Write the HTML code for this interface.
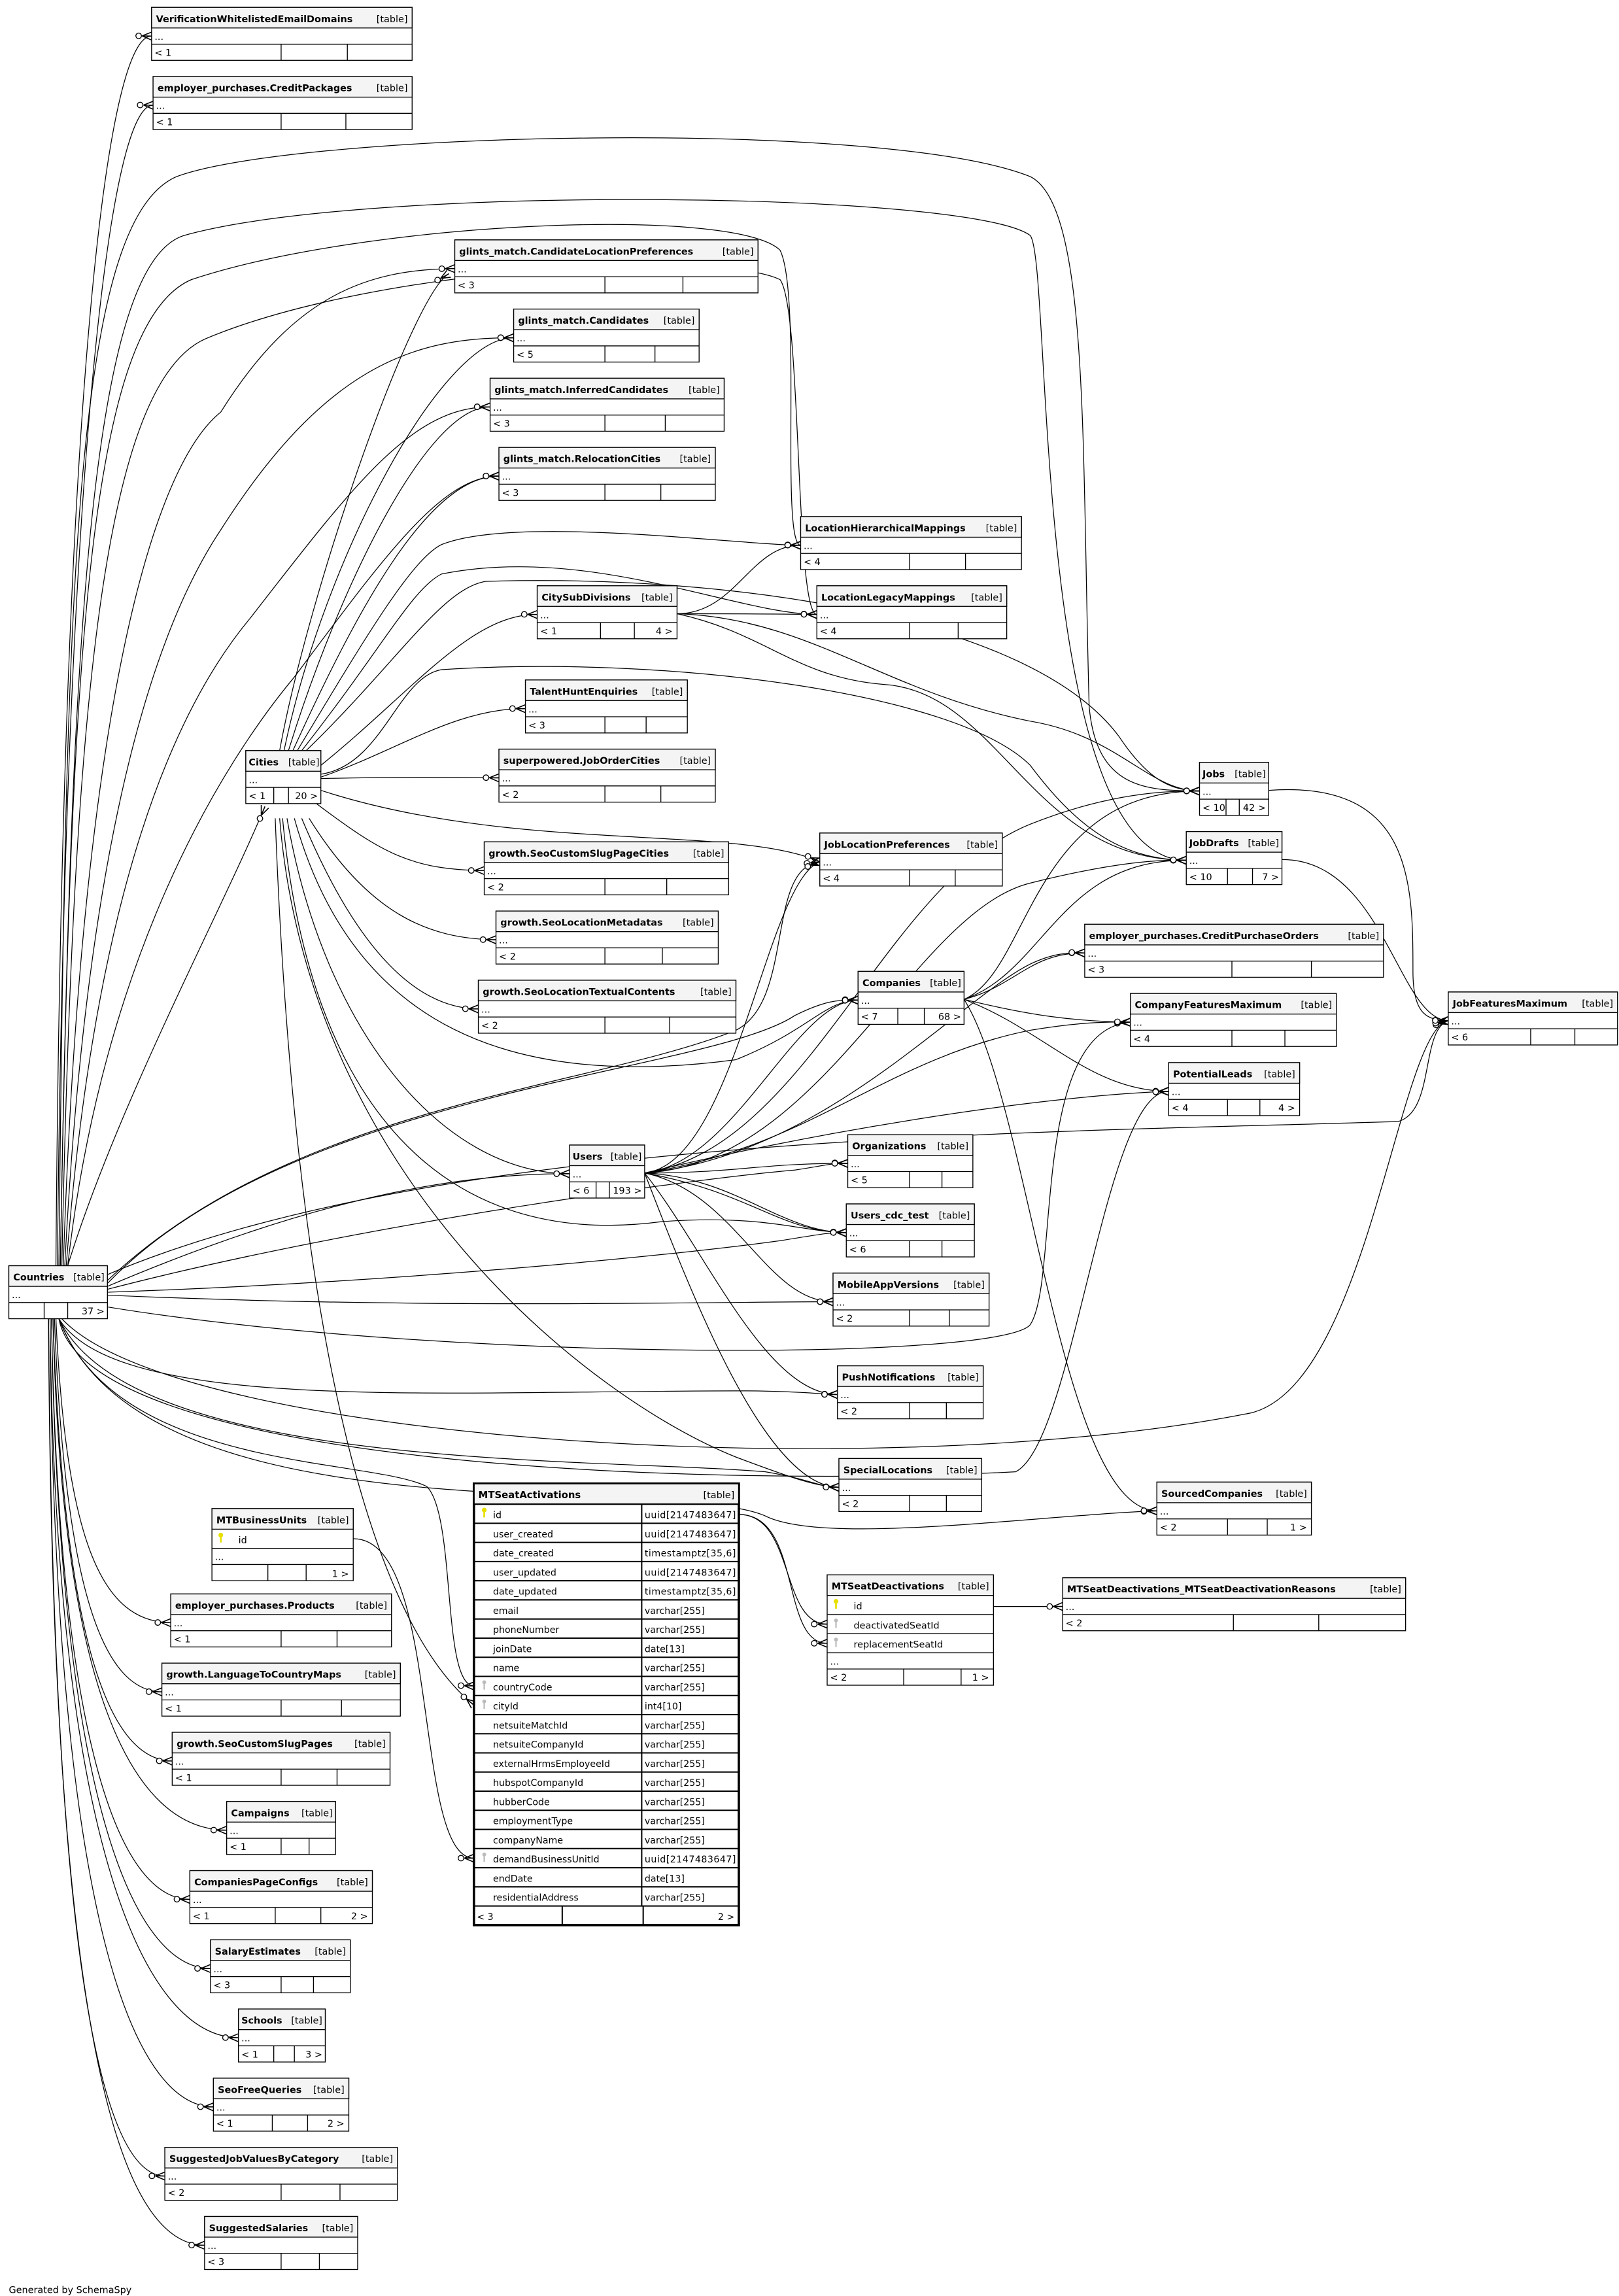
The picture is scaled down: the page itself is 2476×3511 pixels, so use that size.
<!DOCTYPE html>
<html><head><meta charset="utf-8"><style>
html,body{margin:0;padding:0;background:#fff}
svg{display:block}
.b{fill:#fff;stroke:#000;stroke-width:.6}
.hd{fill:#f4f4f4;stroke:#000;stroke-width:.6}
.l{stroke:#000;stroke-width:.6;fill:none}
.h{font:bold 6.4px "DejaVu Sans","Liberation Sans",sans-serif}
.s{font:6.4px "DejaVu Sans","Liberation Sans",sans-serif}
.t{font:6.4px "DejaVu Sans","Liberation Sans",sans-serif}
.e path{fill:none;stroke:#000;stroke-width:.55;marker-end:url(#m)}
</style></head><body>
<svg xmlns="http://www.w3.org/2000/svg" width="2476" height="3511" viewBox="0 0 1100 1560" preserveAspectRatio="none">
<defs>
<marker id="m" markerUnits="userSpaceOnUse" markerWidth="12" markerHeight="8" refX="11" refY="4" orient="auto" overflow="visible">
<circle cx="2.2" cy="4" r="1.9" fill="#fff" stroke="#000" stroke-width=".6"/>
<path d="M4.5,4L11,1.3M4.5,4L11,4M4.5,4L11,6.7" stroke="#000" stroke-width=".7" fill="none"/>
</marker>
</defs>
<rect width="1100" height="1560" fill="#fff"/>

<g class="e">
<path d="M38,860 C42,300 70,24 103,24.5"/>
<path d="M39,860 C44,350 72,71 104,71.5"/>
<path d="M40,860 C45,400 50,150 120,120 C200,90 600,80 700,120 C740,140 735,300 740,480 C745,537 780,537 815,537.5"/>
<path d="M41,860 C48,450 60,220 130,190 C250,150 500,140 530,170 C545,200 530,370 544,370.5"/>
<path d="M42,860 C50,480 70,260 140,230 C260,180 490,170 530,190 C545,210 540,417 555,417.5"/>
<path d="M41,860 C48,450 60,180 125,160 C250,125 660,130 700,160 C715,180 700,584 806,584.5"/>
<path d="M43,860 C55,500 100,320 150,280 C200,200 250,183 309,182.5"/>
<path d="M44,860 C60,550 110,420 150,360 C220,250 280,229 349,229.5"/>
<path d="M45,860 C65,600 120,480 170,420 C240,330 280,276 333,276.5"/>
<path d="M46,860 C70,650 150,520 200,460 C260,380 300,323 339,323.5"/>
<path d="M46,860 C80,750 150,620 180,548"/>
<path d="M73,870 C200,750 400,740 500,700 C540,680 520,590 557,585.5"/>
<path d="M73,872 C200,740 480,730 540,690 C560,680 570,679 583,679.5"/>
<path d="M73,874 C200,820 300,797 387,797.5"/>
<path d="M73,876 C250,830 480,800 540,795 C560,792 566,790 576,790.5"/>
<path d="M73,878 C300,870 480,850 530,843 C555,839 565,837 575,837.5"/>
<path d="M73,880 C300,890 500,884 566,884.5"/>
<path d="M73,866 C300,770 700,770 950,762 C975,755 965,700 984,693.5"/>
<path d="M73,888 C300,925 680,925 700,900 C720,870 700,700 768,694.5"/>
<path d="M40,896 C60,1000 500,1010 690,1000 C730,980 750,741 794,741.5"/>
<path d="M40,896 C80,960 300,945 500,945 C540,945 555,947 569,947.5"/>
<path d="M40,896 C90,1000 400,990 520,1000 C550,1005 555,1010 570,1010.5"/>
<path d="M40,896 C100,1050 450,1000 520,1030 C560,1050 700,1030 786,1026.5"/>
<path d="M42,896 C120,980 600,1010 850,960 C930,940 950,700 984,693.5"/>
<path d="M40,896 C80,1000 250,990 290,1010 C310,1030 300,1145 322,1145.5"/>
<path d="M38,896 C45,1050 70,1102 116,1102.5"/>
<path d="M37,896 C44,1080 70,1149 110,1149.5"/>
<path d="M36,896 C43,1100 70,1196 117,1196.5"/>
<path d="M36,896 C42,1150 90,1243 154,1243.5"/>
<path d="M35,896 C40,1180 80,1290 129,1290.5"/>
<path d="M35,896 C40,1220 90,1337 143,1337.5"/>
<path d="M34,896 C38,1260 100,1384 162,1384.5"/>
<path d="M34,896 C37,1300 90,1431 145,1431.5"/>
<path d="M33,896 C36,1340 70,1478 112,1478.5"/>
<path d="M33,896 C35,1380 80,1525 139,1525.5"/>
<path d="M190,510 C210,400 280,200 305,186"/>
<path d="M193,510 C220,380 300,229 349,229.5"/>
<path d="M196,510 C230,400 290,276 333,276.5"/>
<path d="M199,510 C240,420 290,323 339,323.5"/>
<path d="M202,510 C250,430 280,380 300,370 C350,350 500,370 544,370.5"/>
<path d="M205,510 C260,440 280,400 300,390 C400,370 500,417 555,417.5"/>
<path d="M208,510 C270,450 300,400 330,395 C500,390 700,420 760,500 C780,530 795,537 815,537.5"/>
<path d="M218,520 C280,470 320,417 365,417.5"/>
<path d="M218,528 C270,510 310,481 357,481.5"/>
<path d="M218,529 C260,528 300,528 339,528.5"/>
<path d="M218,526 C260,520 270,460 300,455 C450,445 650,470 700,520 C730,560 760,584 806,584.5"/>
<path d="M218,537 C350,580 500,560 557,585.5"/>
<path d="M215,546 C260,580 280,591 329,591.5"/>
<path d="M210,556 C250,620 290,638 337,638.5"/>
<path d="M205,556 C240,640 280,685 325,685.5"/>
<path d="M200,556 C240,700 350,740 500,720 C550,700 560,680 583,679.5"/>
<path d="M195,556 C220,700 300,797 387,797.5"/>
<path d="M192,556 C210,750 300,850 450,830 C520,825 545,837 575,837.5"/>
<path d="M190,556 C210,800 400,950 500,990 C540,1005 555,1010 570,1010.5"/>
<path d="M187,556 C200,900 250,1100 322,1158.5"/>
<path d="M460,417 C500,417 510,370 544,370.5"/>
<path d="M460,417 C500,417 520,417 555,417.5"/>
<path d="M460,417 C550,420 600,470 700,490 C760,500 780,537 815,537.5"/>
<path d="M460,417 C520,430 540,460 600,465 C680,470 700,584 806,584.5"/>
<path d="M655,679 C700,660 700,537 815,537.5"/>
<path d="M655,679 C710,660 720,584 806,584.5"/>
<path d="M655,679 C690,670 700,647 737,647.5"/>
<path d="M655,679 C700,690 730,694 768,694.5"/>
<path d="M655,679 C710,700 740,741 794,741.5"/>
<path d="M655,679 C700,750 720,1026 786,1026.5"/>
<path d="M438,797 C500,790 540,680 583,679.5"/>
<path d="M438,797 C550,780 600,600 700,560 C750,540 790,537 815,537.5"/>
<path d="M438,797 C560,790 620,620 700,600 C760,585 790,584 806,584.5"/>
<path d="M438,797 C500,790 520,600 557,585.5"/>
<path d="M438,797 C560,785 650,680 700,655 C715,648 725,647 737,647.5"/>
<path d="M438,797 C550,780 600,720 700,700 C730,695 750,694 768,694.5"/>
<path d="M438,797 C550,770 700,745 794,741.5"/>
<path d="M438,797 C500,797 520,790 576,790.5"/>
<path d="M438,797 C500,800 530,837 575,837.5"/>
<path d="M438,797 C510,810 530,837 575,837.5"/>
<path d="M438,797 C500,810 520,884 566,884.5"/>
<path d="M438,797 C480,850 520,947 569,947.5"/>
<path d="M438,797 C470,880 520,1010 570,1010.5"/>
<path d="M862,537 C960,530 960,600 960,660 C960,690 970,693 984,693.5"/>
<path d="M871,584 C940,584 950,693 984,693.5"/>
<path d="M502,1029 C540,1029 530,1103.5 562,1103.5"/>
<path d="M502,1029 C545,1029 530,1116.5 562,1116.5"/>
<path d="M675,1091.5 L722,1091.5"/>
<path d="M240,1045.5 C300,1045 280,1262.5 322,1262.5"/>
</g>

<g transform="translate(103,5)"><rect class="b" width="177" height="36"/><rect class="hd" width="177" height="14"/><path class="l" d="M0 25H177M88 25V36M133 25V36"/><text class="h" x="3" y="10">VerificationWhitelistedEmailDomains</text><text class="s" x="174" y="10" text-anchor="end">[table]</text><text class="t" x="2" y="22">...</text><text class="t" x="2" y="33">&lt; 1</text></g>
<g transform="translate(104,52)"><rect class="b" width="176" height="36"/><rect class="hd" width="176" height="14"/><path class="l" d="M0 25H176M87 25V36M131 25V36"/><text class="h" x="3" y="10">employer_purchases.CreditPackages</text><text class="s" x="173" y="10" text-anchor="end">[table]</text><text class="t" x="2" y="22">...</text><text class="t" x="2" y="33">&lt; 1</text></g>
<g transform="translate(309,163)"><rect class="b" width="206" height="36"/><rect class="hd" width="206" height="14"/><path class="l" d="M0 25H206M102 25V36M155 25V36"/><text class="h" x="3" y="10">glints_match.CandidateLocationPreferences</text><text class="s" x="203" y="10" text-anchor="end">[table]</text><text class="t" x="2" y="22">...</text><text class="t" x="2" y="33">&lt; 3</text></g>
<g transform="translate(349,210)"><rect class="b" width="126" height="36"/><rect class="hd" width="126" height="14"/><path class="l" d="M0 25H126M62 25V36M96 25V36"/><text class="h" x="3" y="10">glints_match.Candidates</text><text class="s" x="123" y="10" text-anchor="end">[table]</text><text class="t" x="2" y="22">...</text><text class="t" x="2" y="33">&lt; 5</text></g>
<g transform="translate(333,257)"><rect class="b" width="159" height="36"/><rect class="hd" width="159" height="14"/><path class="l" d="M0 25H159M78 25V36M119 25V36"/><text class="h" x="3" y="10">glints_match.InferredCandidates</text><text class="s" x="156" y="10" text-anchor="end">[table]</text><text class="t" x="2" y="22">...</text><text class="t" x="2" y="33">&lt; 3</text></g>
<g transform="translate(339,304)"><rect class="b" width="147" height="36"/><rect class="hd" width="147" height="14"/><path class="l" d="M0 25H147M72 25V36M110 25V36"/><text class="h" x="3" y="10">glints_match.RelocationCities</text><text class="s" x="144" y="10" text-anchor="end">[table]</text><text class="t" x="2" y="22">...</text><text class="t" x="2" y="33">&lt; 3</text></g>
<g transform="translate(544,351)"><rect class="b" width="150" height="36"/><rect class="hd" width="150" height="14"/><path class="l" d="M0 25H150M74 25V36M112 25V36"/><text class="h" x="3" y="10">LocationHierarchicalMappings</text><text class="s" x="147" y="10" text-anchor="end">[table]</text><text class="t" x="2" y="22">...</text><text class="t" x="2" y="33">&lt; 4</text></g>
<g transform="translate(555,398)"><rect class="b" width="129" height="36"/><rect class="hd" width="129" height="14"/><path class="l" d="M0 25H129M63 25V36M96 25V36"/><text class="h" x="3" y="10">LocationLegacyMappings</text><text class="s" x="126" y="10" text-anchor="end">[table]</text><text class="t" x="2" y="22">...</text><text class="t" x="2" y="33">&lt; 4</text></g>
<g transform="translate(365,398)"><rect class="b" width="95" height="36"/><rect class="hd" width="95" height="14"/><path class="l" d="M0 25H95M43 25V36M66 25V36"/><text class="h" x="3" y="10">CitySubDivisions</text><text class="s" x="92" y="10" text-anchor="end">[table]</text><text class="t" x="2" y="22">...</text><text class="t" x="2" y="33">&lt; 1</text><text class="t" x="92" y="33" text-anchor="end">4 &gt;</text></g>
<g transform="translate(357,462)"><rect class="b" width="110" height="36"/><rect class="hd" width="110" height="14"/><path class="l" d="M0 25H110M54 25V36M82 25V36"/><text class="h" x="3" y="10">TalentHuntEnquiries</text><text class="s" x="107" y="10" text-anchor="end">[table]</text><text class="t" x="2" y="22">...</text><text class="t" x="2" y="33">&lt; 3</text></g>
<g transform="translate(339,509)"><rect class="b" width="147" height="36"/><rect class="hd" width="147" height="14"/><path class="l" d="M0 25H147M72 25V36M110 25V36"/><text class="h" x="3" y="10">superpowered.JobOrderCities</text><text class="s" x="144" y="10" text-anchor="end">[table]</text><text class="t" x="2" y="22">...</text><text class="t" x="2" y="33">&lt; 2</text></g>
<g transform="translate(167,510)"><rect class="b" width="51" height="36"/><rect class="hd" width="51" height="14"/><path class="l" d="M0 25H51M19 25V36M29 25V36"/><text class="h" x="2" y="10">Cities</text><text class="s" x="50" y="10" text-anchor="end">[table]</text><text class="t" x="2" y="22">...</text><text class="t" x="2" y="33">&lt; 1</text><text class="t" x="49" y="33" text-anchor="end">20 &gt;</text></g>
<g transform="translate(557,566)"><rect class="b" width="124" height="36"/><rect class="hd" width="124" height="14"/><path class="l" d="M0 25H124M61 25V36M92 25V36"/><text class="h" x="3" y="10">JobLocationPreferences</text><text class="s" x="121" y="10" text-anchor="end">[table]</text><text class="t" x="2" y="22">...</text><text class="t" x="2" y="33">&lt; 4</text></g>
<g transform="translate(329,572)"><rect class="b" width="166" height="36"/><rect class="hd" width="166" height="14"/><path class="l" d="M0 25H166M82 25V36M124 25V36"/><text class="h" x="3" y="10">growth.SeoCustomSlugPageCities</text><text class="s" x="163" y="10" text-anchor="end">[table]</text><text class="t" x="2" y="22">...</text><text class="t" x="2" y="33">&lt; 2</text></g>
<g transform="translate(337,619)"><rect class="b" width="151" height="36"/><rect class="hd" width="151" height="14"/><path class="l" d="M0 25H151M74 25V36M113 25V36"/><text class="h" x="3" y="10">growth.SeoLocationMetadatas</text><text class="s" x="148" y="10" text-anchor="end">[table]</text><text class="t" x="2" y="22">...</text><text class="t" x="2" y="33">&lt; 2</text></g>
<g transform="translate(325,666)"><rect class="b" width="175" height="36"/><rect class="hd" width="175" height="14"/><path class="l" d="M0 25H175M86 25V36M130 25V36"/><text class="h" x="3" y="10">growth.SeoLocationTextualContents</text><text class="s" x="172" y="10" text-anchor="end">[table]</text><text class="t" x="2" y="22">...</text><text class="t" x="2" y="33">&lt; 2</text></g>
<g transform="translate(815,518)"><rect class="b" width="47" height="36"/><rect class="hd" width="47" height="14"/><path class="l" d="M0 25H47M18 25V36M27 25V36"/><text class="h" x="2" y="10">Jobs</text><text class="s" x="45" y="10" text-anchor="end">[table]</text><text class="t" x="2" y="22">...</text><text class="t" x="2" y="33">&lt; 10</text><text class="t" x="45" y="33" text-anchor="end">42 &gt;</text></g>
<g transform="translate(806,565)"><rect class="b" width="65" height="36"/><rect class="hd" width="65" height="14"/><path class="l" d="M0 25H65M28 25V36M45 25V36"/><text class="h" x="2" y="10">JobDrafts</text><text class="s" x="63" y="10" text-anchor="end">[table]</text><text class="t" x="2" y="22">...</text><text class="t" x="2" y="33">&lt; 10</text><text class="t" x="63" y="33" text-anchor="end">7 &gt;</text></g>
<g transform="translate(737,628)"><rect class="b" width="203" height="36"/><rect class="hd" width="203" height="14"/><path class="l" d="M0 25H203M100 25V36M154 25V36"/><text class="h" x="3" y="10">employer_purchases.CreditPurchaseOrders</text><text class="s" x="200" y="10" text-anchor="end">[table]</text><text class="t" x="2" y="22">...</text><text class="t" x="2" y="33">&lt; 3</text></g>
<g transform="translate(984,674)"><rect class="b" width="115" height="36"/><rect class="hd" width="115" height="14"/><path class="l" d="M0 25H115M56 25V36M86 25V36"/><text class="h" x="3" y="10">JobFeaturesMaximum</text><text class="s" x="112" y="10" text-anchor="end">[table]</text><text class="t" x="2" y="22">...</text><text class="t" x="2" y="33">&lt; 6</text></g>
<g transform="translate(583,660)"><rect class="b" width="72" height="36"/><rect class="hd" width="72" height="14"/><path class="l" d="M0 25H72M27 25V36M45 25V36"/><text class="h" x="3" y="10">Companies</text><text class="s" x="70" y="10" text-anchor="end">[table]</text><text class="t" x="2" y="22">...</text><text class="t" x="2" y="33">&lt; 7</text><text class="t" x="70" y="33" text-anchor="end">68 &gt;</text></g>
<g transform="translate(768,675)"><rect class="b" width="140" height="36"/><rect class="hd" width="140" height="14"/><path class="l" d="M0 25H140M69 25V36M105 25V36"/><text class="h" x="3" y="10">CompanyFeaturesMaximum</text><text class="s" x="137" y="10" text-anchor="end">[table]</text><text class="t" x="2" y="22">...</text><text class="t" x="2" y="33">&lt; 4</text></g>
<g transform="translate(794,722)"><rect class="b" width="89" height="36"/><rect class="hd" width="89" height="14"/><path class="l" d="M0 25H89M40 25V36M62 25V36"/><text class="h" x="3" y="10">PotentialLeads</text><text class="s" x="86" y="10" text-anchor="end">[table]</text><text class="t" x="2" y="22">...</text><text class="t" x="2" y="33">&lt; 4</text><text class="t" x="86" y="33" text-anchor="end">4 &gt;</text></g>
<g transform="translate(576,771)"><rect class="b" width="85" height="36"/><rect class="hd" width="85" height="14"/><path class="l" d="M0 25H85M42 25V36M64 25V36"/><text class="h" x="3" y="10">Organizations</text><text class="s" x="82" y="10" text-anchor="end">[table]</text><text class="t" x="2" y="22">...</text><text class="t" x="2" y="33">&lt; 5</text></g>
<g transform="translate(387,778)"><rect class="b" width="51" height="36"/><rect class="hd" width="51" height="14"/><path class="l" d="M0 25H51M18 25V36M27 25V36"/><text class="h" x="2" y="10">Users</text><text class="s" x="49" y="10" text-anchor="end">[table]</text><text class="t" x="2" y="22">...</text><text class="t" x="2" y="33">&lt; 6</text><text class="t" x="49" y="33" text-anchor="end">193 &gt;</text></g>
<g transform="translate(575,818)"><rect class="b" width="87" height="36"/><rect class="hd" width="87" height="14"/><path class="l" d="M0 25H87M43 25V36M65 25V36"/><text class="h" x="3" y="10">Users_cdc_test</text><text class="s" x="84" y="10" text-anchor="end">[table]</text><text class="t" x="2" y="22">...</text><text class="t" x="2" y="33">&lt; 6</text></g>
<g transform="translate(566,865)"><rect class="b" width="106" height="36"/><rect class="hd" width="106" height="14"/><path class="l" d="M0 25H106M52 25V36M79 25V36"/><text class="h" x="3" y="10">MobileAppVersions</text><text class="s" x="103" y="10" text-anchor="end">[table]</text><text class="t" x="2" y="22">...</text><text class="t" x="2" y="33">&lt; 2</text></g>
<g transform="translate(6,860)"><rect class="b" width="67" height="36"/><rect class="hd" width="67" height="14"/><path class="l" d="M0 25H67M24 25V36M40 25V36"/><text class="h" x="3" y="10">Countries</text><text class="s" x="65" y="10" text-anchor="end">[table]</text><text class="t" x="2" y="22">...</text><text class="t" x="65" y="33" text-anchor="end">37 &gt;</text></g>
<g transform="translate(569,928)"><rect class="b" width="99" height="36"/><rect class="hd" width="99" height="14"/><path class="l" d="M0 25H99M49 25V36M74 25V36"/><text class="h" x="3" y="10">PushNotifications</text><text class="s" x="96" y="10" text-anchor="end">[table]</text><text class="t" x="2" y="22">...</text><text class="t" x="2" y="33">&lt; 2</text></g>
<g transform="translate(570,991)"><rect class="b" width="97" height="36"/><rect class="hd" width="97" height="14"/><path class="l" d="M0 25H97M48 25V36M73 25V36"/><text class="h" x="3" y="10">SpecialLocations</text><text class="s" x="94" y="10" text-anchor="end">[table]</text><text class="t" x="2" y="22">...</text><text class="t" x="2" y="33">&lt; 2</text></g>
<g transform="translate(786,1007)"><rect class="b" width="105" height="36"/><rect class="hd" width="105" height="14"/><path class="l" d="M0 25H105M48 25V36M75 25V36"/><text class="h" x="3" y="10">SourcedCompanies</text><text class="s" x="102" y="10" text-anchor="end">[table]</text><text class="t" x="2" y="22">...</text><text class="t" x="2" y="33">&lt; 2</text><text class="t" x="102" y="33" text-anchor="end">1 &gt;</text></g>
<g transform="translate(722,1072)"><rect class="b" width="233" height="36"/><rect class="hd" width="233" height="14"/><path class="l" d="M0 25H233M116 25V36M174 25V36"/><text class="h" x="3" y="10">MTSeatDeactivations_MTSeatDeactivationReasons</text><text class="s" x="230" y="10" text-anchor="end">[table]</text><text class="t" x="2" y="22">...</text><text class="t" x="2" y="33">&lt; 2</text></g>
<g transform="translate(116,1083)"><rect class="b" width="150" height="36"/><rect class="hd" width="150" height="14"/><path class="l" d="M0 25H150M75 25V36M113 25V36"/><text class="h" x="3" y="10">employer_purchases.Products</text><text class="s" x="147" y="10" text-anchor="end">[table]</text><text class="t" x="2" y="22">...</text><text class="t" x="2" y="33">&lt; 1</text></g>
<g transform="translate(110,1130)"><rect class="b" width="162" height="36"/><rect class="hd" width="162" height="14"/><path class="l" d="M0 25H162M81 25V36M122 25V36"/><text class="h" x="3" y="10">growth.LanguageToCountryMaps</text><text class="s" x="159" y="10" text-anchor="end">[table]</text><text class="t" x="2" y="22">...</text><text class="t" x="2" y="33">&lt; 1</text></g>
<g transform="translate(117,1177)"><rect class="b" width="148" height="36"/><rect class="hd" width="148" height="14"/><path class="l" d="M0 25H148M74 25V36M112 25V36"/><text class="h" x="3" y="10">growth.SeoCustomSlugPages</text><text class="s" x="145" y="10" text-anchor="end">[table]</text><text class="t" x="2" y="22">...</text><text class="t" x="2" y="33">&lt; 1</text></g>
<g transform="translate(154,1224)"><rect class="b" width="74" height="36"/><rect class="hd" width="74" height="14"/><path class="l" d="M0 25H74M37 25V36M56 25V36"/><text class="h" x="3" y="10">Campaigns</text><text class="s" x="72" y="10" text-anchor="end">[table]</text><text class="t" x="2" y="22">...</text><text class="t" x="2" y="33">&lt; 1</text></g>
<g transform="translate(129,1271)"><rect class="b" width="124" height="36"/><rect class="hd" width="124" height="14"/><path class="l" d="M0 25H124M58 25V36M89 25V36"/><text class="h" x="3" y="10">CompaniesPageConfigs</text><text class="s" x="121" y="10" text-anchor="end">[table]</text><text class="t" x="2" y="22">...</text><text class="t" x="2" y="33">&lt; 1</text><text class="t" x="121" y="33" text-anchor="end">2 &gt;</text></g>
<g transform="translate(143,1318)"><rect class="b" width="95" height="36"/><rect class="hd" width="95" height="14"/><path class="l" d="M0 25H95M48 25V36M70 25V36"/><text class="h" x="3" y="10">SalaryEstimates</text><text class="s" x="92" y="10" text-anchor="end">[table]</text><text class="t" x="2" y="22">...</text><text class="t" x="2" y="33">&lt; 3</text></g>
<g transform="translate(162,1365)"><rect class="b" width="59" height="36"/><rect class="hd" width="59" height="14"/><path class="l" d="M0 25H59M24 25V36M38 25V36"/><text class="h" x="2" y="10">Schools</text><text class="s" x="57" y="10" text-anchor="end">[table]</text><text class="t" x="2" y="22">...</text><text class="t" x="2" y="33">&lt; 1</text><text class="t" x="57" y="33" text-anchor="end">3 &gt;</text></g>
<g transform="translate(145,1412)"><rect class="b" width="92" height="36"/><rect class="hd" width="92" height="14"/><path class="l" d="M0 25H92M40 25V36M64 25V36"/><text class="h" x="3" y="10">SeoFreeQueries</text><text class="s" x="89" y="10" text-anchor="end">[table]</text><text class="t" x="2" y="22">...</text><text class="t" x="2" y="33">&lt; 1</text><text class="t" x="89" y="33" text-anchor="end">2 &gt;</text></g>
<g transform="translate(112,1459)"><rect class="b" width="158" height="36"/><rect class="hd" width="158" height="14"/><path class="l" d="M0 25H158M79 25V36M119 25V36"/><text class="h" x="3" y="10">SuggestedJobValuesByCategory</text><text class="s" x="155" y="10" text-anchor="end">[table]</text><text class="t" x="2" y="22">...</text><text class="t" x="2" y="33">&lt; 2</text></g>
<g transform="translate(139,1506)"><rect class="b" width="104" height="36"/><rect class="hd" width="104" height="14"/><path class="l" d="M0 25H104M52 25V36M78 25V36"/><text class="h" x="3" y="10">SuggestedSalaries</text><text class="s" x="101" y="10" text-anchor="end">[table]</text><text class="t" x="2" y="22">...</text><text class="t" x="2" y="33">&lt; 3</text></g>

<g transform="translate(144,1025)"><rect class="b" width="96" height="49"/><rect class="hd" width="96" height="14"/><path class="l" d="M0 27H96M0 38H96M38 38V49M64 38V49"/>
<text class="h" x="3" y="10">MTBusinessUnits</text><text class="s" x="93" y="10" text-anchor="end">[table]</text>
<g fill="#e8e000"><circle cx="6" cy="18" r="1.6"/><rect x="5.4" y="18" width="1.2" height="5"/></g>
<text class="t" x="18" y="23.5">id</text><text class="t" x="2" y="35">...</text><text class="t" x="93" y="46.5" text-anchor="end">1 &gt;</text></g>

<g transform="translate(562,1070)"><rect class="b" width="113" height="75"/><rect class="hd" width="113" height="14"/><path class="l" d="M0 27H113M0 40H113M0 53H113M0 64H113M52 64V75M91 64V75"/>
<text class="h" x="3" y="10">MTSeatDeactivations</text><text class="s" x="110" y="10" text-anchor="end">[table]</text>
<g fill="#e8e000"><circle cx="6" cy="18" r="1.6"/><rect x="5.4" y="18" width="1.2" height="5"/></g>
<g fill="#bbb"><circle cx="6" cy="31" r="1.3"/><rect x="5.5" y="31" width="1" height="5"/><circle cx="6" cy="44" r="1.3"/><rect x="5.5" y="44" width="1" height="5"/></g>
<text class="t" x="18" y="23.5">id</text><text class="t" x="18" y="36.5">deactivatedSeatId</text><text class="t" x="18" y="49.5">replacementSeatId</text><text class="t" x="2" y="61">...</text><text class="t" x="2" y="72">&lt; 2</text><text class="t" x="110" y="72" text-anchor="end">1 &gt;</text></g>

<g transform="translate(322,1008)"><rect class="b" width="180" height="300" style="stroke-width:1.6"/><rect class="hd" width="180" height="14" style="stroke-width:1"/>
<path class="l" d="M114 14V287M0 27H180M0 40H180M0 53H180M0 66H180M0 79H180M0 92H180M0 105H180M0 118H180M0 131H180M0 144H180M0 157H180M0 170H180M0 183H180M0 196H180M0 209H180M0 222H180M0 235H180M0 248H180M0 261H180M0 274H180M0 287H180M60 287V300M115 287V300" style="stroke-width:.9"/>
<text class="h" x="3" y="10" style="font-size:6.6px">MTSeatActivations</text><text class="s" x="177" y="10" text-anchor="end">[table]</text>
<g fill="#e8e000"><circle cx="7" cy="18" r="1.6"/><rect x="6.4" y="18" width="1.2" height="5"/></g>
<g fill="#bbb"><circle cx="7" cy="135" r="1.3"/><rect x="6.5" y="135" width="1" height="5"/><circle cx="7" cy="148" r="1.3"/><rect x="6.5" y="148" width="1" height="5"/><circle cx="7" cy="252" r="1.3"/><rect x="6.5" y="252" width="1" height="5"/></g>
<g class="t" style="font-size:6.3px">
<text x="13" y="23.5">id</text><text x="116" y="23.5" textLength="62">uuid[2147483647]</text>
<text x="13" y="36.5">user_created</text><text x="116" y="36.5" textLength="62">uuid[2147483647]</text>
<text x="13" y="49.5">date_created</text><text x="116" y="49.5" textLength="62">timestamptz[35,6]</text>
<text x="13" y="62.5">user_updated</text><text x="116" y="62.5" textLength="62">uuid[2147483647]</text>
<text x="13" y="75.5">date_updated</text><text x="116" y="75.5" textLength="62">timestamptz[35,6]</text>
<text x="13" y="88.5">email</text><text x="116" y="88.5">varchar[255]</text>
<text x="13" y="101.5">phoneNumber</text><text x="116" y="101.5">varchar[255]</text>
<text x="13" y="114.5">joinDate</text><text x="116" y="114.5">date[13]</text>
<text x="13" y="127.5">name</text><text x="116" y="127.5">varchar[255]</text>
<text x="13" y="140.5">countryCode</text><text x="116" y="140.5">varchar[255]</text>
<text x="13" y="153.5">cityId</text><text x="116" y="153.5">int4[10]</text>
<text x="13" y="166.5">netsuiteMatchId</text><text x="116" y="166.5">varchar[255]</text>
<text x="13" y="179.5">netsuiteCompanyId</text><text x="116" y="179.5">varchar[255]</text>
<text x="13" y="192.5">externalHrmsEmployeeId</text><text x="116" y="192.5">varchar[255]</text>
<text x="13" y="205.5">hubspotCompanyId</text><text x="116" y="205.5">varchar[255]</text>
<text x="13" y="218.5">hubberCode</text><text x="116" y="218.5">varchar[255]</text>
<text x="13" y="231.5">employmentType</text><text x="116" y="231.5">varchar[255]</text>
<text x="13" y="244.5">companyName</text><text x="116" y="244.5">varchar[255]</text>
<text x="13" y="257.5">demandBusinessUnitId</text><text x="116" y="257.5" textLength="62">uuid[2147483647]</text>
<text x="13" y="270.5">endDate</text><text x="116" y="270.5">date[13]</text>
<text x="13" y="283.5">residentialAddress</text><text x="116" y="283.5">varchar[255]</text>
<text x="2" y="296.5">&lt; 3</text><text x="177" y="296.5" text-anchor="end">2 &gt;</text>
</g></g>

<text class="t" x="6" y="1558">Generated by SchemaSpy</text>
</svg>
</body></html>
